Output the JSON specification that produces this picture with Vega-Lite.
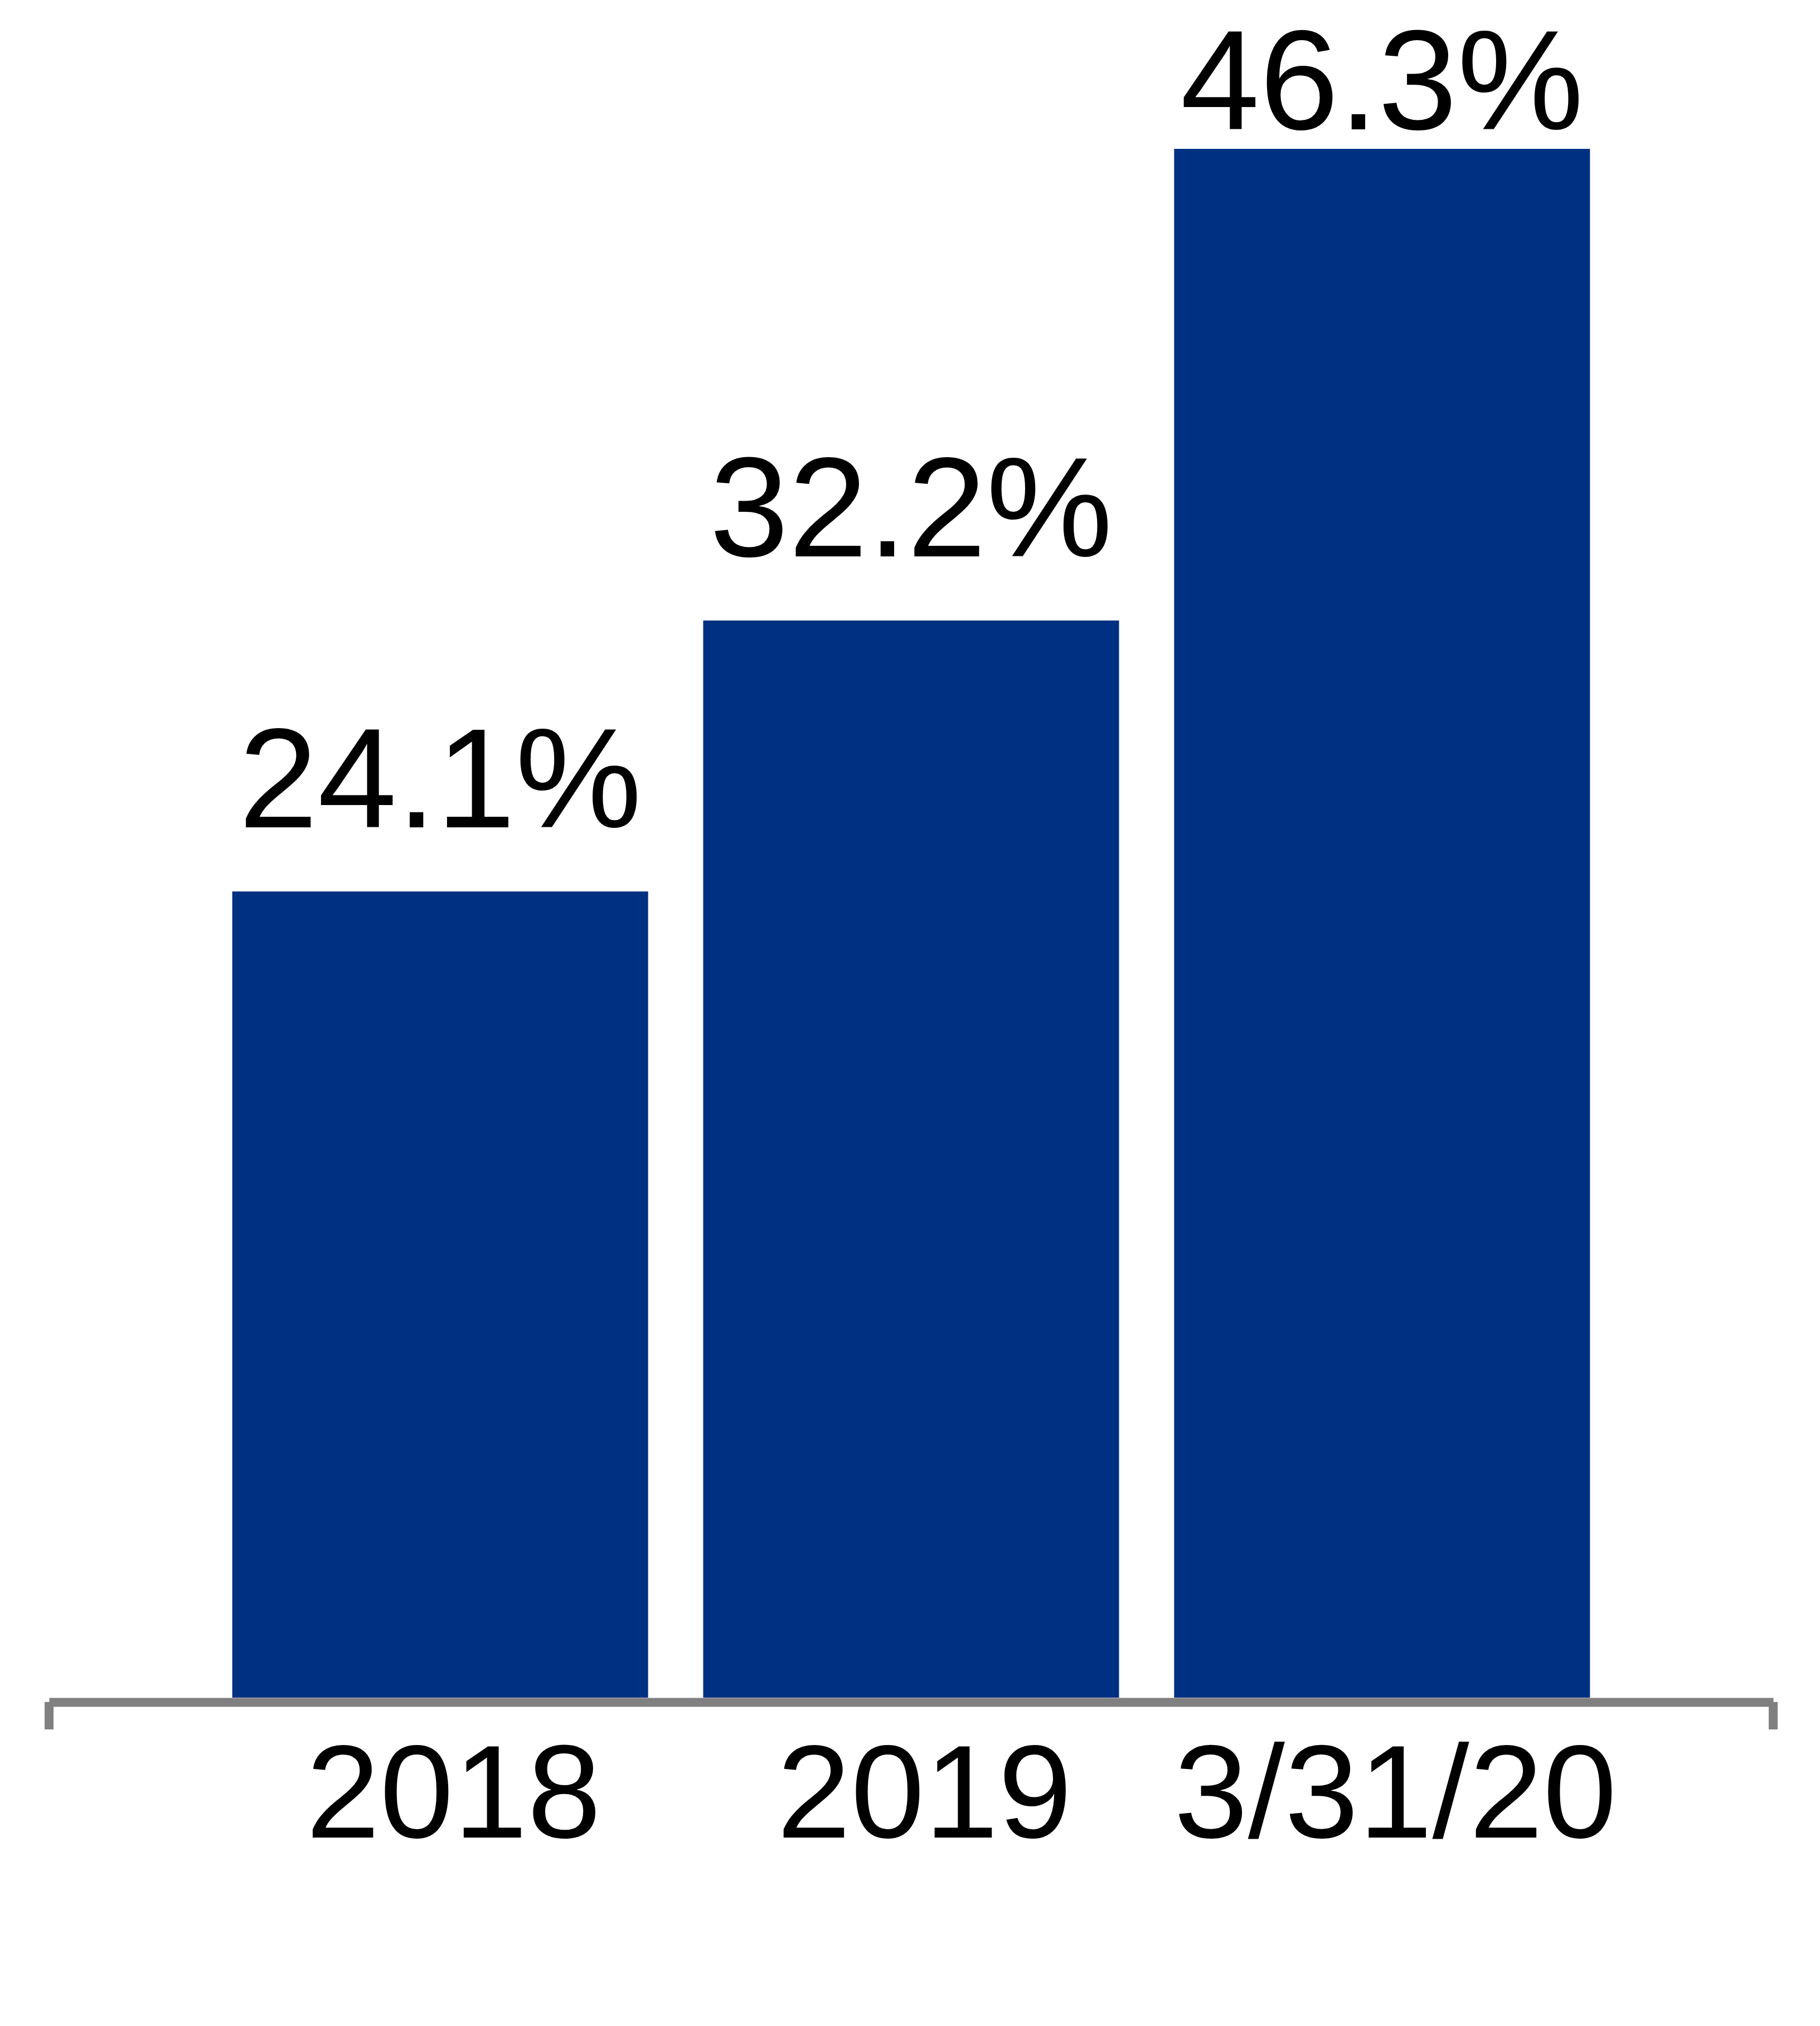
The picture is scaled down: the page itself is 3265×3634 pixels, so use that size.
{
  "$schema": "https://vega.github.io/schema/vega-lite/v6.json",
  "autosize": {"type": "none"},
  "width": 3093,
  "height": 3045,
  "padding": {"left": 88, "top": 0, "right": 84, "bottom": 589},
  "background": "white",
  "config": {"view": {"stroke": null}, "font": "Liberation Sans"},
  "datasets": {
    "bars": [
      {"period": "2018", "value": 24.1, "label": "24.1%"},
      {"period": "2019", "value": 32.2, "label": "32.2%"},
      {"period": "3/31/20", "value": 46.3, "label": "46.3%"}
    ],
    "edges": [{"edge": 0}, {"edge": 1}]
  },
  "layer": [
    {
      "data": {"name": "bars"},
      "mark": {"type": "bar", "color": "#003082"},
      "encoding": {
        "x": {
          "field": "period", "type": "nominal", "sort": null,
          "scale": {"type": "band", "paddingInner": 0.117, "paddingOuter": 0.389},
          "axis": {
            "title": null, "labelAngle": 0, "ticks": false,
            "domain": true, "domainColor": "#808080", "domainWidth": 16,
            "offset": 8, "labelFont": "Liberation Sans", "labelFontSize": 238,
            "labelColor": "#000000", "labelBaseline": "alphabetic",
            "labelPadding": 242, "labelOffset": 24, "labelLimit": 0, "grid": false
          }
        },
        "y": {
          "field": "value", "type": "quantitative",
          "scale": {"domain": [0, 50.75], "nice": false, "zero": true},
          "axis": null
        }
      }
    },
    {
      "data": {"name": "bars"},
      "mark": {"type": "text", "baseline": "alphabetic", "align": "center", "dy": -115, "fontSize": 255, "font": "Liberation Sans", "color": "#000000"},
      "encoding": {
        "x": {"field": "period", "type": "nominal", "sort": null,
              "scale": {"type": "band", "paddingInner": 0.117, "paddingOuter": 0.389}, "axis": null},
        "y": {
          "field": "value", "type": "quantitative",
          "scale": {"domain": [0, 44.97], "range": [3045, 347], "clamp": true, "nice": false, "zero": true},
          "axis": null
        },
        "text": {"field": "label", "type": "nominal"}
      }
    },
    {
      "data": {"name": "edges"},
      "mark": {"type": "rule", "color": "#808080", "strokeWidth": 16},
      "encoding": {
        "x": {"field": "edge", "type": "quantitative", "scale": {"domain": [0, 1], "nice": false, "zero": false}, "axis": null},
        "y": {"datum": -0.13, "type": "quantitative", "scale": {"domain": [0, 50.75], "nice": false}, "axis": null},
        "y2": {"datum": -0.95}
      }
    }
  ],
  "resolve": {"scale": {"x": "independent", "y": "independent"}}
}
